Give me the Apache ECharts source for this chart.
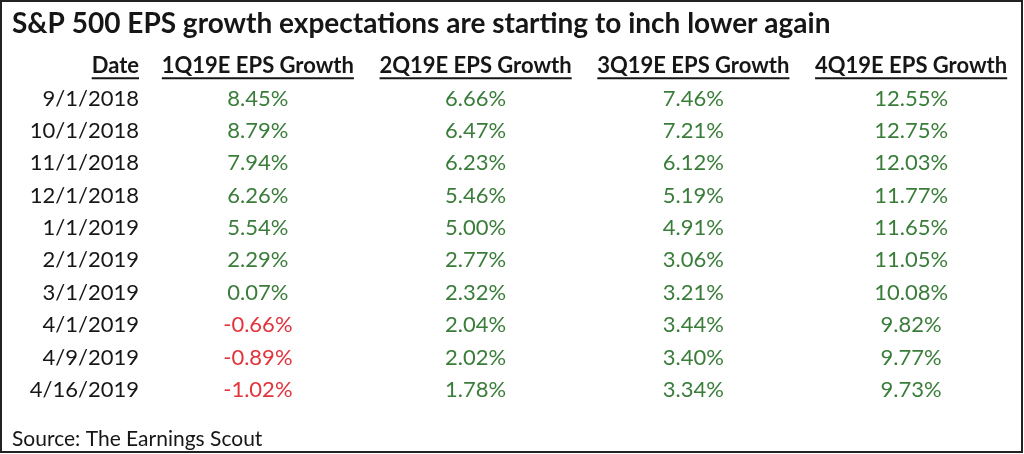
<!DOCTYPE html>
<html><head><meta charset="utf-8">
<script src="https://cdn.jsdelivr.net/npm/echarts@6/dist/echarts.min.js"></script>
<style>html,body{margin:0;padding:0;background:#fff}#c{width:1024px;height:454px}</style>
</head><body><div id="c"></div>
<script>
const titleText = 'S&P 500 EPS growth expectations are starting to inch lower again';
const sourceText = 'Source: The Earnings Scout';
const dateHeader = 'Date';
const columnHeaders = ['1Q19E EPS Growth', '2Q19E EPS Growth', '3Q19E EPS Growth', '4Q19E EPS Growth'];
const dates = ['9/1/2018', '10/1/2018', '11/1/2018', '12/1/2018', '1/1/2019', '2/1/2019', '3/1/2019', '4/1/2019', '4/9/2019', '4/16/2019'];
const q1Growth = [8.45, 8.79, 7.94, 6.26, 5.54, 2.29, 0.07, -0.66, -0.89, -1.02];
const q2Growth = [6.66, 6.47, 6.23, 5.46, 5.00, 2.77, 2.32, 2.04, 2.02, 1.78];
const q3Growth = [7.46, 7.21, 6.12, 5.19, 4.91, 3.06, 3.21, 3.44, 3.40, 3.34];
const q4Growth = [12.55, 12.75, 12.03, 11.77, 11.65, 11.05, 10.08, 9.82, 9.77, 9.73];

const FONT = 'Lato';
const DARK = '#161616';
const GREEN = '#3a7d3a';
const RED = '#e3343c';

const rows = [dateHeader].concat(dates);
const valueCols = [q1Growth, q2Growth, q3Growth, q4Growth];

const cells = [];
cells.push({ col: 0, row: 0, text: dateHeader, header: true, isDate: true, color: DARK });
columnHeaders.forEach((h, i) => cells.push({ col: i, row: 0, text: h, header: true, isDate: false, color: DARK }));
dates.forEach((d, r) => {
  cells.push({ col: 0, row: r + 1, text: d, header: false, isDate: true, color: DARK });
  valueCols.forEach((arr, c) => {
    const v = arr[r];
    cells.push({ col: c, row: r + 1, text: v.toFixed(2) + '%', header: false, isDate: false, color: v < 0 ? RED : GREEN });
  });
});

const measureCtx = document.createElement('canvas').getContext('2d');
function measure(text, weight, size) {
  measureCtx.font = weight + ' ' + size + 'px ' + FONT;
  return measureCtx.measureText(text).width;
}

function renderItem(params, api) {
  const c = cells[params.dataIndex];
  const p = api.coord([c.col, c.row]);
  const bw = api.size([1, 1])[0];
  let x = p[0], align = 'center';
  if (c.isDate) { x = p[0] - bw / 2 - 10; align = 'right'; }
  const size = c.header ? 22 : 22;
  const weight = c.header ? 'bold' : 'normal';
  const children = [{
    type: 'text',
    style: { text: c.text, x: x, y: p[1], align: align, verticalAlign: 'middle',
      fontSize: size, fontFamily: FONT, fontWeight: weight, fill: c.color }
  }];
  if (c.header) {
    const w = measure(c.text, weight, size);
    const x0 = align === 'right' ? x - w : x - w / 2;
    children.push({ type: 'line', shape: { x1: x0, y1: p[1] + 12, x2: x0 + w, y2: p[1] + 12 },
      style: { stroke: DARK, lineWidth: 2 } });
  }
  return { type: 'group', children: children };
}

const chart = echarts.init(document.getElementById('c'));
chart.setOption({
  animation: false,
  backgroundColor: '#fff',
  title: [
    { text: titleText, left: 7, top: 5,
      textStyle: { fontFamily: FONT, fontWeight: 'bold', fontSize: 28, color: DARK } },
    { text: sourceText, left: 7, top: 424,
      textStyle: { fontFamily: FONT, fontWeight: 'normal', fontSize: 21, color: DARK } }
  ],
  grid: { left: 149, right: 4, top: 50, height: 356 },
  xAxis: { type: 'category', data: columnHeaders, show: false },
  yAxis: { type: 'category', data: rows, inverse: true, show: false },
  graphic: [{ type: 'rect', shape: { x: 1, y: 1, width: 1021, height: 451 },
    style: { fill: 'none', stroke: '#222', lineWidth: 2 }, silent: true }],
  series: [{
    type: 'custom',
    renderItem: renderItem,
    data: cells.map(c => [c.col, c.row]),
    silent: true
  }]
});
</script>
</body></html>
